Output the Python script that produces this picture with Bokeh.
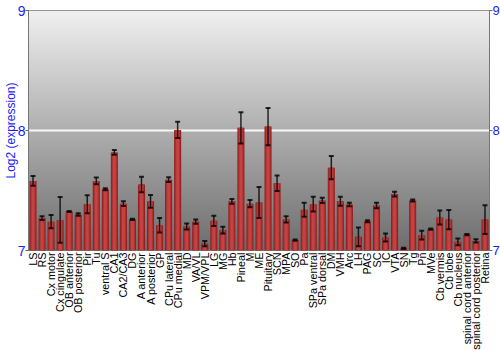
import numpy as np
from bokeh.plotting import figure
from bokeh.models import FactorRange, Range1d, LinearAxis, FixedTicker, Whisker, TeeHead, ColumnDataSource
from bokeh.embed import file_html
from bokeh.resources import INLINE

regions = ["LS", "RS", "Cx motor", "Cx cingulate", "OB anterior", "OB posterior", "Pir", "Tu",
           "ventral S", "CA1", "CA2/CA3", "DG", "A anterior", "A posterior", "GP", "CPu lateral",
           "CPu medial", "MD", "VA/VL", "VPM/VPL", "LG", "MG", "Hb", "Pineal", "M", "ME",
           "Pituitary", "SCN", "MPA", "SO", "Pa", "SPa ventral", "SPa dorsal", "DM", "VMH", "Arc",
           "LH", "PAG", "SC", "IC", "VTA", "SN", "Tg", "Pn", "MVe", "Cb vermis", "Cb lobe",
           "Cb nucleus", "spinal cord anterior", "spinal cord posterior", "Retina"]

expression = [7.58, 7.27, 7.24, 7.255, 7.325, 7.30, 7.386, 7.58,
              7.51, 7.817, 7.39, 7.26, 7.55, 7.41, 7.21, 7.59,
              8.005, 7.20, 7.24, 7.058, 7.247, 7.17, 7.41, 8.022, 7.39, 7.40,
              8.033, 7.56, 7.26, 7.086, 7.34, 7.386, 7.417, 7.69, 7.41, 7.383,
              7.114, 7.244, 7.375, 7.108, 7.47, 7.017, 7.417, 7.128, 7.178, 7.275, 7.258,
              7.072, 7.133, 7.08, 7.258]

error = [0.04, 0.015, 0.055, 0.19, 0.005, 0.01, 0.075, 0.028,
         0.008, 0.02, 0.02, 0.005, 0.064, 0.053, 0.06, 0.02,
         0.068, 0.025, 0.018, 0.022, 0.042, 0.028, 0.02, 0.13, 0.03, 0.13,
         0.155, 0.065, 0.026, 0.005, 0.058, 0.062, 0.022, 0.097, 0.037, 0.015,
         0.078, 0.008, 0.022, 0.033, 0.02, 0.005, 0.008, 0.037, 0.006, 0.058, 0.08,
         0.028, 0.005, 0.014, 0.12]

y_ticks = [7, 8, 9]

BLUE = "#1a1aff"
FONT = "Liberation Sans"

vals = np.array(expression)
errs = np.array(error)
src = ColumnDataSource(dict(x=regions, top=vals, upper=vals + errs, lower=vals - errs))

p = figure(x_range=FactorRange(*regions), y_range=Range1d(7, 9),
           frame_width=461, frame_height=240,
           output_backend="svg", toolbar_location=None,
           min_border_left=27, min_border_right=12, min_border_top=10, min_border_bottom=100)

# gradient background
n = 240
shade = np.linspace(110, 240, n).astype(np.uint8)
img = np.empty((n, 1), dtype=np.uint32)
view = img.view(dtype=np.uint8).reshape((n, 1, 4))
view[:, 0, 0] = shade
view[:, 0, 1] = shade
view[:, 0, 2] = shade
view[:, 0, 3] = 255
p.image_rgba(image=[img], x=0, y=7, dw=len(regions), dh=2, level="image")

# bars with cylinder-like shading
p.vbar(x="x", top="top", bottom=7, width=0.78, source=src, fill_color="#8e2020", line_color=None)
p.vbar(x="x", top="top", bottom=7, width=0.58, source=src, fill_color="#b03030", line_color=None)
p.vbar(x="x", top="top", bottom=7, width=0.32, source=src, fill_color="#c44242", line_color=None)

w = Whisker(base="x", upper="upper", lower="lower", source=src, line_color="black",
            line_alpha=0.8, line_width=1.5, level="overlay",
            upper_head=TeeHead(size=5, line_color="black", line_width=2, line_alpha=0.8),
            lower_head=TeeHead(size=5, line_color="black", line_width=2, line_alpha=0.8))
p.add_layout(w)

p.xgrid.visible = False
p.ygrid.ticker = FixedTicker(ticks=[8])
p.ygrid.grid_line_color = "#f8f8f8"
p.ygrid.grid_line_width = 2

p.outline_line_color = "#777777"
p.background_fill_color = "#ffffff"
p.border_fill_color = "#ffffff"

# x axis
xa = p.xaxis[0]
xa.major_label_orientation = np.pi / 2
xa.axis_line_color = None
xa.major_tick_line_color = None
xa.minor_tick_line_color = None
xa.major_tick_out = 0
xa.major_tick_in = 0
xa.major_label_standoff = 2
xa.major_label_text_font = FONT
xa.major_label_text_font_size = "10.8px"
xa.major_label_text_color = "black"

# left y axis
ya = p.yaxis[0]
ya.ticker = FixedTicker(ticks=y_ticks)
ya.axis_label = "Log2 (expression)"
ya.axis_label_text_color = BLUE
ya.axis_label_text_font = FONT
ya.axis_label_text_font_size = "12px"
ya.axis_label_text_font_style = "normal"
ya.axis_label_standoff = -3
ya.major_label_text_color = BLUE
ya.major_label_text_font = FONT
ya.major_label_text_font_size = "14px"
ya.major_label_standoff = 0
ya.major_tick_out = 3
ya.major_tick_in = 0
ya.major_tick_line_color = "#666666"
ya.minor_tick_line_color = None
ya.axis_line_color = "#777777"

# right y axis
ra = LinearAxis(ticker=FixedTicker(ticks=y_ticks))
ra.major_label_text_color = BLUE
ra.major_label_text_font = FONT
ra.major_label_text_font_size = "13px"
ra.major_label_standoff = 0
ra.major_tick_out = 3
ra.major_tick_in = 0
ra.major_tick_line_color = "#666666"
ra.minor_tick_line_color = None
ra.axis_line_color = "#777777"
p.add_layout(ra, "right")

open("out.html", "w").write(file_html(p, INLINE))
